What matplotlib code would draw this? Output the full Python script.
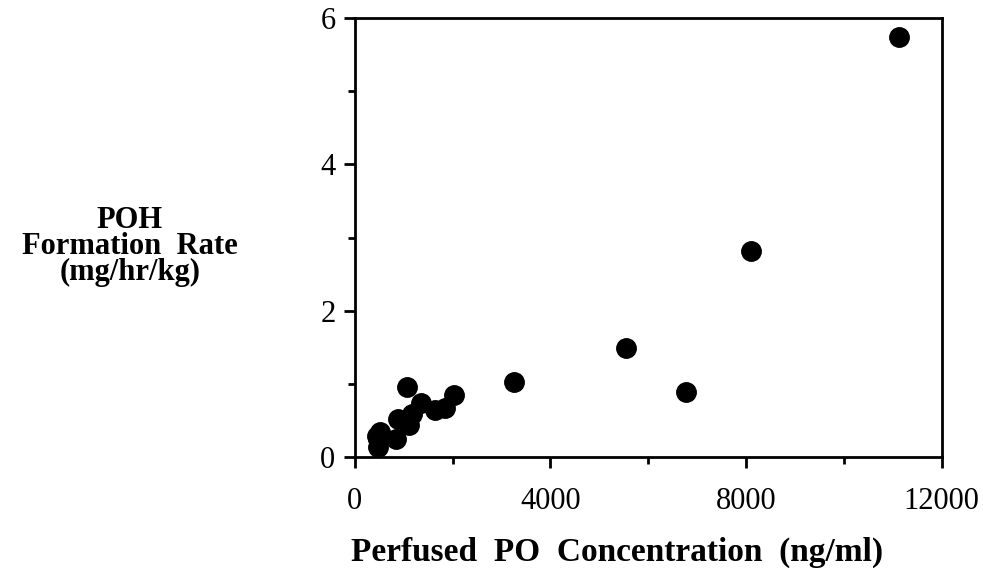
import matplotlib
matplotlib.use("Agg")
import matplotlib.pyplot as plt
from matplotlib.ticker import MultipleLocator

# perfused PO concentration (ng/ml) vs POH formation rate (mg/hr/kg)
conc = [11130, 8110, 5540, 6780, 3250, 1075, 2030, 1840, 1635, 1360,
        1160, 1100, 885, 845, 510, 475, 470, 455]
rate = [5.75, 2.82, 1.49, 0.88, 1.02, 0.95, 0.84, 0.67, 0.64, 0.73,
        0.58, 0.44, 0.52, 0.24, 0.34, 0.24, 0.14, 0.28]

xticks = [0, 4000, 8000, 12000]
yticks = [0, 2, 4, 6]

plt.rcParams['font.family'] = ['Liberation Serif', 'DejaVu Serif']

fig = plt.figure(figsize=(9.83, 5.71), dpi=100)
ax = fig.add_axes([0.361, 0.2, 0.597, 0.768])

ax.plot(conc, rate, 'o', color='black', markersize=14, clip_on=False)

ax.set_xlim(0, 12000)
ax.set_ylim(0, 6)
ax.set_xticks(xticks)
ax.set_yticks(yticks)
ax.xaxis.set_minor_locator(MultipleLocator(2000))
ax.yaxis.set_minor_locator(MultipleLocator(1))
ax.tick_params(which='both', direction='out', width=2, labelsize=22)
ax.tick_params(which='major', length=8)
ax.tick_params(which='minor', length=5)
ax.tick_params(axis='x', pad=14)
ax.tick_params(axis='y', pad=6)
for sp in ax.spines.values():
    sp.set_linewidth(2)

ax.set_xlabel("Perfused  PO  Concentration  (ng/ml)", fontsize=24,
              fontweight='bold', va='center')
ax.xaxis.set_label_coords(0.446, -0.218)
fig.text(0.132, 0.568, "POH\nFormation  Rate\n(mg/hr/kg)", fontsize=22,
         fontweight='bold', ha='center', va='center', linespacing=0.86)

fig.savefig("out.png", dpi=100)
